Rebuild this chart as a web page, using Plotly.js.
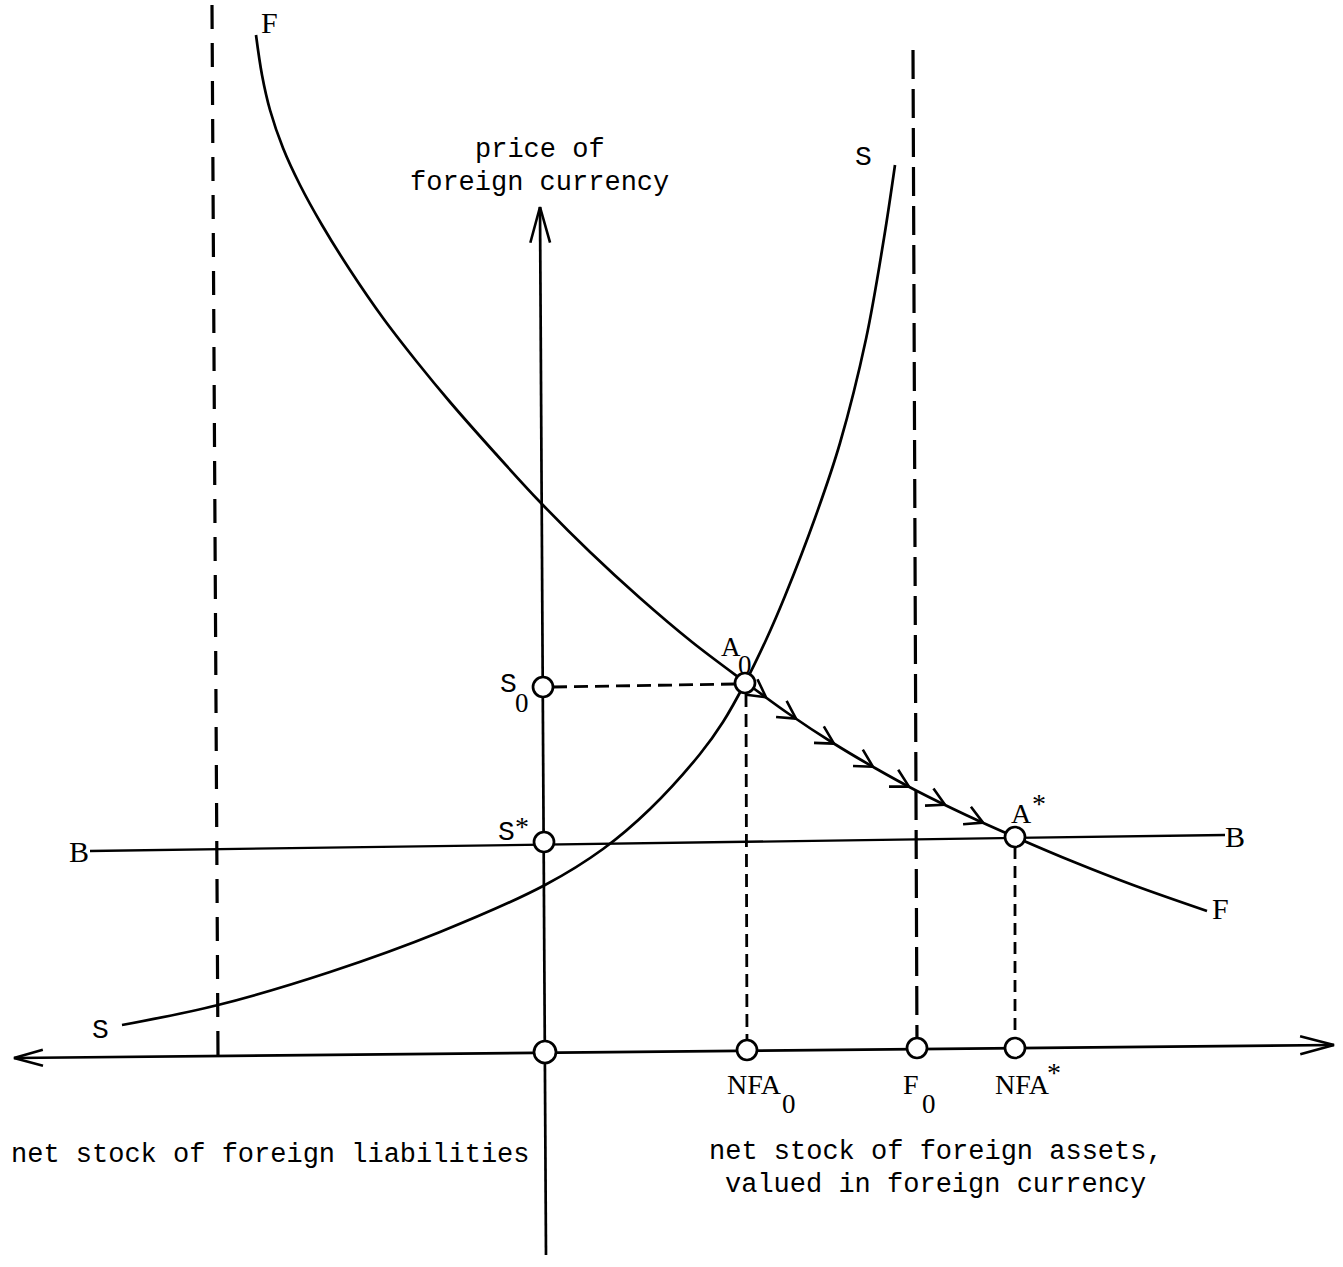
<!DOCTYPE html>
<html>
<head>
<meta charset="utf-8">
<script src="https://cdn.plot.ly/plotly-3.0.1.min.js"></script>
<style>
html,body{margin:0;padding:0;background:#ffffff;}
#chart{width:1343px;height:1267px;}
</style>
</head>
<body>
<div id="chart"></div>
<script>
// ---- Diagram data (drawing units: x to the right, y downward) ----
// F curve (desired stock of foreign assets)
const fCurveX = [256, 262, 270, 283, 300, 322, 350, 383, 417, 450, 495, 540, 590, 640, 692, 745, 789, 833, 875, 917, 966, 1015, 1074, 1133, 1207];
const fCurveY = [35, 75, 110, 148, 185, 225, 270, 318, 362, 402, 453, 502, 552, 598, 642, 682, 714, 743, 768, 791, 815, 837, 862, 885, 911];
// S curve
const sCurveX = [122, 218, 330, 440, 545, 603, 650, 700, 723, 745, 766, 785, 815, 840, 866, 884, 895];
const sCurveY = [1025, 1005, 972, 932, 885, 849, 809, 754, 722, 683, 640, 596, 518, 443, 339, 238, 165];
// B line (balanced current account)
const bLineX = [90, 1225];
const bLineY = [851, 835];
// Axes
const hAxisX = [14, 1334];
const hAxisY = [1058, 1045];
const vAxisX = [540, 546];
const vAxisY = [207, 1255];
// Dashed guide lines
const leftLimitX = [212, 218];
const leftLimitY = [5, 1055];
const f0LimitX = [913, 917];
const f0LimitY = [50, 1048];
const nfa0GuideX = [746, 747];
const nfa0GuideY = [694, 1050];
const nfaStarGuideX = [1015, 1015];
const nfaStarGuideY = [847, 1048];
const s0GuideX = [553, 735];
const s0GuideY = [687, 684];
// Marked points: origin, S0, S*, A0, A*, NFA0, F0, NFA*
const pointNames = ['O', 'S0', 'S*', 'A0', 'A*', 'NFA0', 'F0', 'NFA*'];
const pointX = [545, 543, 544, 745, 1015, 747, 917, 1015];
const pointY = [1052, 687, 842, 683, 837, 1050, 1048, 1048];
// Adjustment path arrows along F, from A0 towards A*
const flowTipX = [766, 796, 834, 873, 909, 945, 983];

// ---- helpers ----
function interpF(x) {
  for (let i = 0; i < fCurveX.length - 1; i++) {
    if (x >= fCurveX[i] && x <= fCurveX[i + 1]) {
      const dx = fCurveX[i + 1] - fCurveX[i];
      const dy = fCurveY[i + 1] - fCurveY[i];
      const t = (x - fCurveX[i]) / dx;
      return {y: fCurveY[i] + t * dy, dx: dx, dy: dy};
    }
  }
  return {y: fCurveY[fCurveY.length - 1], dx: 1, dy: 0};
}
function chevron(tx, ty, dx, dy, len, ang) {
  const n = Math.hypot(dx, dy);
  const ux = dx / n, uy = dy / n;
  const c = Math.cos(ang), s = Math.sin(ang);
  const a1x = tx - len * (ux * c - uy * s), a1y = ty - len * (uy * c + ux * s);
  const a2x = tx - len * (ux * c + uy * s), a2y = ty - len * (uy * c - ux * s);
  return {x: [a1x, tx, a2x, null], y: [a1y, ty, a2y, null]};
}

const blk = '#000000';
const traces = [];
function line(x, y, w, dash, shape) {
  traces.push({type: 'scatter', mode: 'lines', x: x, y: y, hoverinfo: 'skip',
    line: {color: blk, width: w, dash: dash || 'solid', shape: shape || 'linear',
      smoothing: 1, simplify: false}});
}

// curves
line(fCurveX, fCurveY, 2.7, 'solid', 'spline');
line(sCurveX, sCurveY, 2.7, 'solid', 'spline');
line(bLineX, bLineY, 2.3);
line(hAxisX, hAxisY, 2.7);
line(vAxisX, vAxisY, 2.7);
line(leftLimitX, leftLimitY, 3.2, '24px,14px');
line(f0LimitX, f0LimitY, 3.2, '29px,10px');
line(nfa0GuideX, nfa0GuideY, 2.8, '13px,7px');
line(nfaStarGuideX, nfaStarGuideY, 2.8, '12px,7px');
line(s0GuideX, s0GuideY, 2.8, '14px,7px');

// arrowheads
const ax = [], ay = [];
function addChev(c) { ax.push(...c.x); ay.push(...c.y); }
addChev(chevron(vAxisX[0], vAxisY[0], vAxisX[0] - vAxisX[1], vAxisY[0] - vAxisY[1], 37, 0.27));
addChev(chevron(hAxisX[0], hAxisY[0], hAxisX[0] - hAxisX[1], hAxisY[0] - hAxisY[1], 30, 0.27));
addChev(chevron(hAxisX[1], hAxisY[1], hAxisX[1] - hAxisX[0], hAxisY[1] - hAxisY[0], 35, 0.26));
flowTipX.forEach(function (x) {
  const p = interpF(x);
  addChev(chevron(x, p.y, p.dx, p.dy, 20, 0.5));
});
traces.push({type: 'scatter', mode: 'lines', x: ax, y: ay, hoverinfo: 'skip',
  line: {color: blk, width: 2.6, simplify: false}});

// circles
traces.push({type: 'scatter', mode: 'markers', x: pointX, y: pointY, text: pointNames, hoverinfo: 'text',
  marker: {symbol: 'circle', size: pointNames.map(function (n) { return n === 'O' ? 22 : 20; }),
    opacity: 1, color: '#ffffff', line: {color: blk, width: 2.7}}});

// ---- text ----
const mono = 'Liberation Mono, Courier New, monospace';
const serif = 'Liberation Serif, Times New Roman, serif';
function txt(x, y, t, fam, size, anchor) {
  return {x: x, y: y, xref: 'x', yref: 'y', text: t, showarrow: false,
    xanchor: anchor || 'center', yanchor: 'middle',
    font: {family: fam, size: size, color: blk}};
}
const annotations = [
  txt(540, 150, 'price of', mono, 27),
  txt(539, 183, 'foreign currency', mono, 27),
  txt(269, 22, 'F', serif, 30),
  txt(1220, 908, 'F', serif, 30),
  txt(863, 157, 'S', mono, 28),
  txt(100, 1030, 'S', mono, 28),
  txt(79, 851, 'B', serif, 30),
  txt(1235, 836, 'B', serif, 30),
  txt(731, 647, 'A', serif, 27),
  txt(745, 665, '0', serif, 27),
  txt(1021, 813, 'A', serif, 28),
  txt(1039, 803, '*', serif, 28),
  txt(508, 684, 'S', mono, 28),
  txt(522, 703, '0', serif, 27),
  txt(506, 832, 'S', mono, 28),
  txt(522, 826, '*', serif, 28),
  txt(754, 1084, 'NFA', serif, 28),
  txt(789, 1104, '0', serif, 27),
  txt(911, 1084, 'F', serif, 28),
  txt(929, 1104, '0', serif, 27),
  txt(1022, 1084, 'NFA', serif, 28),
  txt(1054, 1072, '*', serif, 28),
  txt(270, 1155, 'net stock of foreign liabilities', mono, 27),
  txt(936, 1152, 'net stock of foreign assets,', mono, 27),
  txt(935, 1185, 'valued in foreign currency', mono, 27)
];

const layout = {
  width: 1343, height: 1267,
  margin: {l: 0, r: 0, t: 0, b: 0, pad: 0},
  paper_bgcolor: '#ffffff', plot_bgcolor: '#ffffff',
  showlegend: false,
  xaxis: {range: [0, 1343], visible: false, fixedrange: true},
  yaxis: {range: [1267, 0], visible: false, fixedrange: true},
  annotations: annotations
};
Plotly.newPlot('chart', traces, layout, {staticPlot: true, displayModeBar: false});
</script>
</body>
</html>
